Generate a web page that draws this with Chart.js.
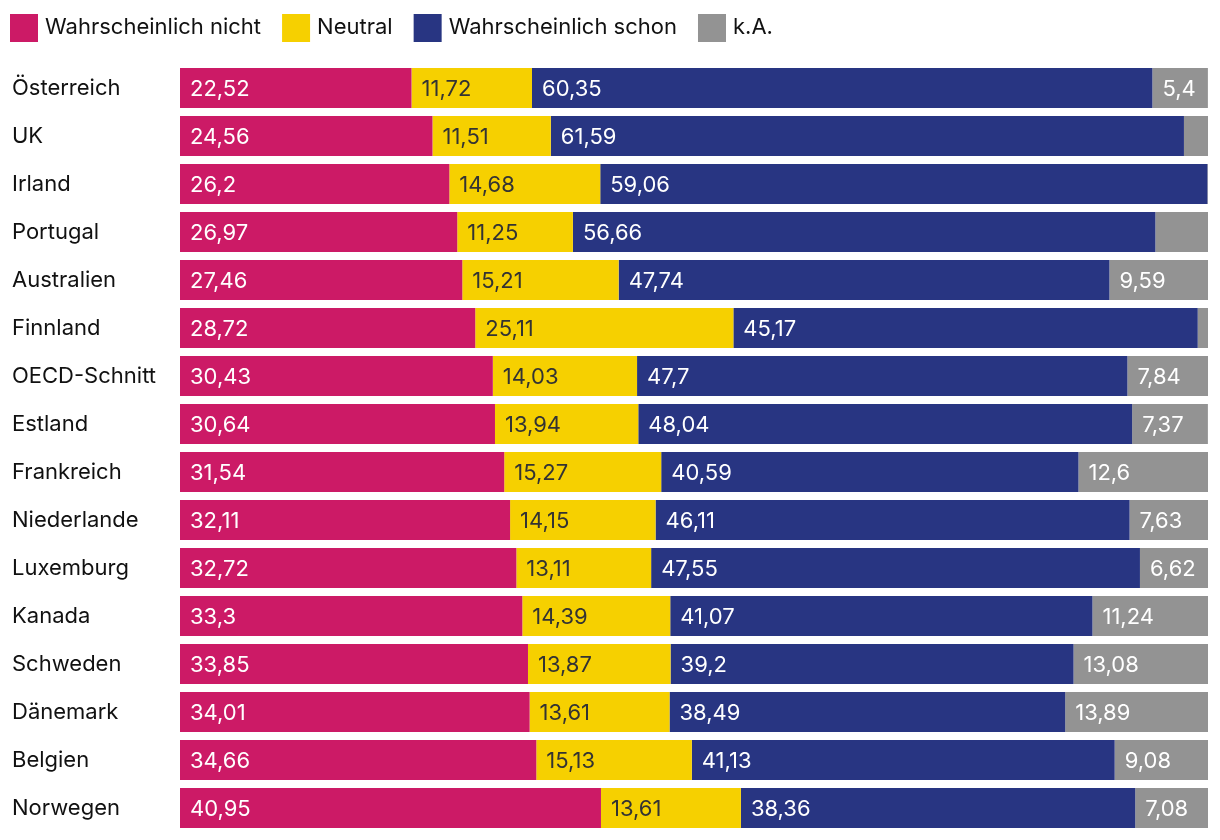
<!DOCTYPE html>
<html>
<head>
<meta charset="utf-8">
<script src="https://cdn.jsdelivr.net/npm/chart.js@4"></script>
<style>
  html, body { margin: 0; padding: 0; background: #fff; }
  #wrap { width: 1220px; height: 840px; }
</style>
</head>
<body>
<div id="wrap"><canvas id="Chart" width="1220" height="840"></canvas></div>
<script>
var countries = ['Österreich', 'UK', 'Irland', 'Portugal', 'Australien', 'Finnland', 'OECD-Schnitt', 'Estland',
  'Frankreich', 'Niederlande', 'Luxemburg', 'Kanada', 'Schweden', 'Dänemark', 'Belgien', 'Norwegen'];
var seriesNames = ['Wahrscheinlich nicht', 'Neutral', 'Wahrscheinlich schon', 'k.A.'];
var nicht = [22.52, 24.56, 26.2, 26.97, 27.46, 28.72, 30.43, 30.64, 31.54, 32.11, 32.72, 33.3, 33.85, 34.01, 34.66, 40.95];
var neutral = [11.72, 11.51, 14.68, 11.25, 15.21, 25.11, 14.03, 13.94, 15.27, 14.15, 13.11, 14.39, 13.87, 13.61, 15.13, 13.61];
var schon = [60.35, 61.59, 59.06, 56.66, 47.74, 45.17, 47.7, 48.04, 40.59, 46.11, 47.55, 41.07, 39.2, 38.49, 41.13, 38.36];
var keineAngabe = [5.4, 2.34, 0.06, 5.12, 9.59, 1.0, 7.84, 7.37, 12.6, 7.63, 6.62, 11.24, 13.08, 13.89, 9.08, 7.08];

var colors = ['#cc1a66', '#f6d000', '#283582', '#939393'];
var textColors = ['#ffffff', '#333333', '#ffffff', '#ffffff'];
var FONT = 'Inter, "Noto Sans", sans-serif';

document.addEventListener('DOMContentLoaded', function () {
  var ctx = document.getElementById('Chart').getContext('2d');

  // values inside the bar segments
  var barLabels = {
    id: 'barLabels',
    afterDatasetsDraw: function (chart) {
      var c = chart.ctx;
      c.save();
      c.font = '400 22px ' + FONT;
      c.textBaseline = 'middle';
      c.textAlign = 'left';
      chart.data.datasets.forEach(function (ds, i) {
        var meta = chart.getDatasetMeta(i);
        meta.data.forEach(function (bar, j) {
          var v = ds.data[j];
          if (v < 5.3) return;
          var left = Math.min(bar.x, bar.base);
          c.fillStyle = textColors[i];
          c.fillText(String(v).replace('.', ','), left + 10, bar.y + 1);
        });
      });
      c.restore();
    }
  };

  // legend on top
  var topLegend = {
    id: 'topLegend',
    afterDraw: function (chart) {
      var c = chart.ctx;
      c.save();
      c.font = '400 22px ' + FONT;
      c.textBaseline = 'middle';
      c.textAlign = 'left';
      var x = 10;
      seriesNames.forEach(function (name, i) {
        c.fillStyle = colors[i];
        c.fillRect(x, 14, 28, 28);
        c.fillStyle = '#111111';
        c.fillText(name, x + 35, 27);
        x += 35 + c.measureText(name).width + 21;
      });
      c.restore();
    }
  };

  var myChart = new Chart(ctx, {
    type: 'bar',
    data: {
      labels: countries,
      datasets: [nicht, neutral, schon, keineAngabe].map(function (d, i) {
        return {
          label: seriesNames[i],
          data: d,
          backgroundColor: colors[i],
          borderWidth: 0,
          barPercentage: 40 / 48,
          categoryPercentage: 1.0
        };
      })
    },
    options: {
      indexAxis: 'y',
      responsive: false,
      animation: false,
      layout: { padding: { left: 12, right: 12, top: 64, bottom: 8 } },
      plugins: {
        legend: { display: false },
        tooltip: { enabled: false }
      },
      scales: {
        x: {
          stacked: true,
          min: 0,
          max: 100,
          display: false
        },
        y: {
          stacked: true,
          grid: { display: false },
          border: { display: false },
          afterFit: function (scale) { scale.width = 168; },
          ticks: {
            crossAlign: 'far',
            color: '#111111',
            padding: 0,
            font: { family: FONT, size: 22, lineHeight: 0.6 }
          }
        }
      }
    },
    plugins: [barLabels, topLegend]
  });
});
</script>
</body>
</html>
